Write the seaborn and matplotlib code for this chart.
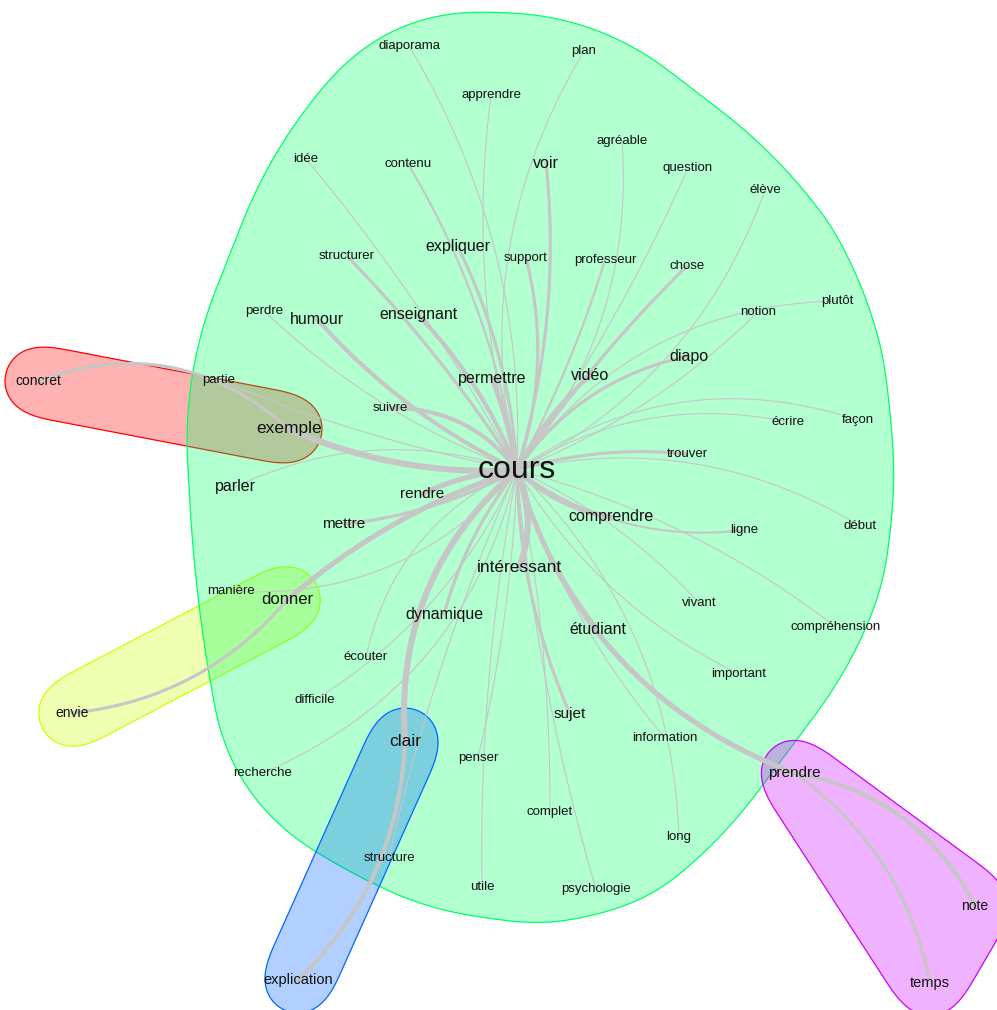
import numpy as np
import pandas as pd
import seaborn as sns
import matplotlib.pyplot as plt

# --- data -------------------------------------------------------------
words = ["cours", "exemple", "partie", "concret", "parler", "rendre", "mettre",
         "suivre", "permettre", "vidéo", "diapo", "humour", "enseignant", "perdre",
         "structurer", "expliquer", "support", "professeur", "chose", "notion",
         "plutôt", "élève", "question", "agréable", "voir", "contenu", "idée",
         "apprendre", "diaporama", "plan", "écrire", "façon", "trouver",
         "comprendre", "ligne", "début", "intéressant", "vivant", "compréhension",
         "étudiant", "important", "dynamique", "manière", "donner", "envie",
         "écouter", "difficile", "sujet", "information", "clair", "penser",
         "recherche", "prendre", "complet", "long", "structure", "utile",
         "psychologie", "explication", "note", "temps"]
node_x = [517, 289, 219, 38, 235, 422, 344, 390, 492, 590, 689, 317, 418, 264,
          347, 458, 526, 605, 687, 758, 837, 765, 688, 622, 546, 408, 306, 491,
          409, 584, 788, 858, 687, 611, 744, 860, 519, 699, 836, 598, 739, 444,
          231, 287, 72, 366, 315, 570, 665, 405, 478, 263, 794, 550, 679, 389,
          482, 596, 298, 975, 930]
node_y = [470, 429, 380, 381, 487, 494, 524, 408, 378, 376, 356, 319, 315, 311,
          256, 247, 258, 260, 266, 312, 301, 190, 168, 141, 163, 164, 159, 95,
          46, 51, 422, 420, 454, 517, 530, 526, 568, 603, 627, 629, 674, 614,
          591, 600, 713, 657, 700, 714, 738, 741, 758, 773, 773, 812, 837, 858,
          887, 889, 980, 906, 983]
# community of each word
node_group = [2, 0, 2, 0, 2, 2, 2, 2, 2, 2, 2, 2, 2, 2, 2, 2, 2, 2, 2, 2, 2, 2,
              2, 2, 2, 2, 2, 2, 2, 2, 2, 2, 2, 2, 2, 2, 2, 2, 2, 2, 2, 2, 2, 1,
              1, 2, 2, 2, 2, 3, 2, 2, 4, 2, 2, 2, 2, 2, 3, 4, 4]

edge_src = ["cours"] * 52 + ["concret", "envie", "explication", "prendre", "prendre"]
edge_dst = ["exemple", "partie", "parler", "rendre", "mettre", "suivre", "permettre",
            "vidéo", "diapo", "humour", "enseignant", "perdre", "structurer",
            "expliquer", "support", "professeur", "chose", "notion", "plutôt",
            "élève", "question", "agréable", "voir", "contenu", "idée", "apprendre",
            "diaporama", "plan", "écrire", "façon", "trouver", "comprendre", "ligne",
            "début", "intéressant", "vivant", "compréhension", "étudiant",
            "important", "dynamique", "manière", "donner", "écouter", "difficile",
            "sujet", "information", "clair", "penser", "recherche", "prendre",
            "complet", "long", "exemple", "donner", "clair", "note", "temps"]
edge_weight = [6, 1, 1, 5, 3, 4, 5, 4, 3, 4, 4, 1, 3, 3, 3, 2, 3, 1, 1,
               1, 1, 1, 3, 2, 1, 1, 1, 1, 1, 1, 3, 5, 2, 1, 6, 1, 1, 3,
               1, 3, 1, 5, 1, 1, 3, 1, 6, 1, 1, 5, 1, 1, 3, 3, 4, 4, 3]
extra_src = ["cours", "cours", "cours"]
extra_dst = ["structure", "utile", "psychologie"]
extra_weight = [1, 1, 1]

# --- style ------------------------------------------------------------
edge_bend = [-0.12, -0.05, 0.2, 0.1, -0.1, 0.25, 0.05, -0.1, -0.2, -0.1, 0.1, -0.1,
             0.05, 0.1, 0.15, 0.05, -0.05, 0.1, -0.25, 0.2, 0.05, 0.2, 0.1, 0.1,
             0.05, -0.1, 0.15, -0.2, -0.2, -0.25, -0.1, 0.15, 0.2, -0.2, -0.2,
             -0.1, -0.1, 0.1, 0.15, 0.1, -0.25, 0.1, 0.25, -0.15, 0.1, 0.1, 0.25,
             -0.05, -0.25, 0.25, -0.05, -0.2, -0.3, 0.2, 0.2, -0.25, -0.2]
extra_bend = [0.05, 0.05, 0.05]

big = {"cours": 23}
medium = {"exemple": 12.5, "intéressant": 12.5, "clair": 12.5, "donner": 12,
          "comprendre": 11.5, "permettre": 11.5, "dynamique": 11.5, "étudiant": 11.5,
          "vidéo": 11.5, "diapo": 11.5, "enseignant": 11.5, "expliquer": 11.5,
          "humour": 11.5, "parler": 11.5, "rendre": 11, "mettre": 11, "sujet": 11,
          "voir": 11.5, "prendre": 11, "explication": 10.5, "temps": 10.5,
          "concret": 10, "envie": 10, "note": 10}
group_colors = ["#FF0000", "#CCFF00", "#00FF66", "#0066FF", "#CC00FF"]
group_order = [0, 1, 2, 3, 4]
pad = 36

sns.set_theme(style="white")
plt.rcParams["font.family"] = ["Liberation Sans", "DejaVu Sans"]

fig = plt.figure(figsize=(9.97, 10.10), dpi=100)
ax = fig.add_axes([0, 0, 1, 1])

pos = {w: (x, y) for w, x, y in zip(words, node_x, node_y)}


def hull(pts):
    pts = sorted(set(map(tuple, pts)))
    def cross(o, a, b):
        return (a[0] - o[0]) * (b[1] - o[1]) - (a[1] - o[1]) * (b[0] - o[0])
    lower, upper = [], []
    for p in pts:
        while len(lower) >= 2 and cross(lower[-2], lower[-1], p) <= 0:
            lower.pop()
        lower.append(p)
    for p in reversed(pts):
        while len(upper) >= 2 and cross(upper[-2], upper[-1], p) <= 0:
            upper.pop()
        upper.append(p)
    return np.array(lower[:-1] + upper[:-1])


def smooth_outline(poly, n=600, frac=0.07):
    # resample evenly along the outline, then circular moving average
    closed = np.vstack([poly, poly[:1]])
    seg = np.hypot(*np.diff(closed, axis=0).T)
    cum = np.concatenate([[0], np.cumsum(seg)])
    s = np.linspace(0, cum[-1], n, endpoint=False)
    xs = np.interp(s, cum, closed[:, 0])
    ys = np.interp(s, cum, closed[:, 1])
    k = max(3, int(n * frac))
    ker = np.ones(k) / k
    xs = np.convolve(np.concatenate([xs[-k:], xs, xs[:k]]), ker, "same")[k:-k]
    ys = np.convolve(np.concatenate([ys[-k:], ys, ys[:k]]), ker, "same")[k:-k]
    return np.column_stack([xs, ys])


ang = np.linspace(0, 2 * np.pi, 72, endpoint=False)
for g in group_order:
    members = [(x, y) for x, y, gg in zip(node_x, node_y, node_group) if gg == g]
    ring = [(round(x + pad * np.cos(a), 2), round(y + pad * np.sin(a), 2))
            for x, y in members for a in ang]
    h = smooth_outline(hull(ring))
    ax.fill(h[:, 0], h[:, 1], facecolor=group_colors[g], alpha=0.3,
            edgecolor="none", zorder=1)
    ax.fill(h[:, 0], h[:, 1], facecolor="none", edgecolor=group_colors[g],
            lw=0.9, zorder=1)

# edges as curved lines
rows = []
t = np.linspace(0, 1, 50)
all_src = edge_src + extra_src
all_dst = edge_dst + extra_dst
all_w = edge_weight + extra_weight
all_b = edge_bend + extra_bend
for i, (s, d, w, b) in enumerate(zip(all_src, all_dst, all_w, all_b)):
    p0 = np.array(pos[s], float)
    p1 = np.array(pos[d], float)
    dv = p1 - p0
    perp = np.array([-dv[1], dv[0]])
    c = (p0 + p1) / 2 + b * perp
    pts = ((1 - t) ** 2)[:, None] * p0 + (2 * (1 - t) * t)[:, None] * c + (t ** 2)[:, None] * p1
    for (x, y) in pts:
        rows.append({"edge": i, "x": x, "y": y, "weight": w})
edges = pd.DataFrame(rows)
sns.lineplot(data=edges, x="x", y="y", units="edge", estimator=None, sort=False,
             size="weight", sizes=(0.8, 4.4), color="#c6c6c6", legend=False,
             ax=ax, zorder=2)
ax.set_xlim(0, 997)
ax.set_ylim(1010, 0)
ax.axis("off")

for w, x, y in zip(words, node_x, node_y):
    fs = big.get(w, medium.get(w, 9.5))
    ax.text(x, y, w, fontsize=fs, ha="center", va="center", color="#111111",
            zorder=3)

fig.savefig("out.png", dpi=100)
